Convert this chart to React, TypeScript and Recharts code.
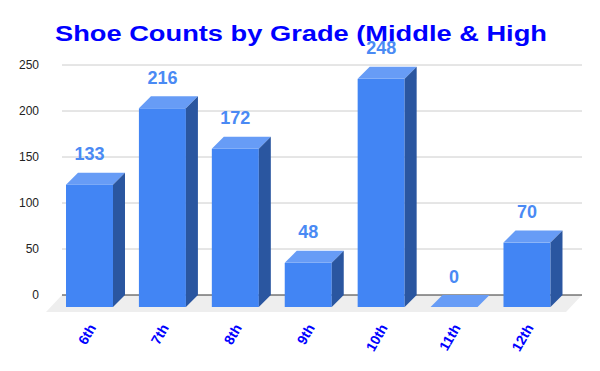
import React from 'react';
import { BarChart, Bar, XAxis, YAxis, CartesianGrid } from 'recharts';

const grades = ['6th', '7th', '8th', '9th', '10th', '11th', '12th'];
const counts = [133, 216, 172, 48, 248, 0, 70];
const yTicks = [0, 50, 100, 150, 200, 250];
const title = 'Shoe Counts by Grade (Middle & High';

const data = grades.map((g, i) => ({ grade: g, count: counts[i] }));

const FONT = '"Liberation Sans", Arial, sans-serif';
const FRONT = '#4285f4';
const TOP = '#679cf6';
const SIDE = '#2a56a0';
const D = 12;

const Bar3D = (props: any) => {
  const { x, y, width, height, payload } = props;
  const w = width;
  const bottom = y + height;
  const v = payload?.count;
  const label = (
    <text
      x={x + w / 2 - D}
      y={y - 12.5}
      textAnchor="middle"
      fontFamily={FONT}
      fontWeight="bold"
      fontSize={18}
      fill="#4a8af4"
    >
      {v}
    </text>
  );
  if (!height || height < 0.5) {
    return (
      <g>
        <polygon
          points={`${x - D},${bottom + D} ${x},${bottom} ${x + w},${bottom} ${x + w - D},${bottom + D}`}
          fill={TOP}
        />
        {label}
      </g>
    );
  }
  return (
    <g>
      <rect x={x - D} y={y + D} width={w} height={height} fill={FRONT} />
      <polygon
        points={`${x - D},${y + D} ${x},${y} ${x + w},${y} ${x + w - D},${y + D}`}
        fill={TOP}
      />
      <polygon
        points={`${x + w - D},${y + D} ${x + w},${y} ${x + w},${bottom} ${x + w - D},${bottom + D}`}
        fill={SIDE}
      />
      {label}
    </g>
  );
};

const XTick = (props: any) => {
  const { x, payload } = props;
  const ax = x - 5;
  const ay = 327.5;
  return (
    <text
      x={ax}
      y={ay}
      transform={`rotate(-60, ${ax}, ${ay})`}
      textAnchor="end"
      fontFamily={FONT}
      fontWeight="bold"
      fontSize={14}
      fill="#0000ff"
    >
      {payload.value}
    </text>
  );
};

const gridLine = (props: any) => {
  const { x1, x2, y1, y2 } = props;
  const isBase = Math.abs(y1 - 295) < 2;
  if (isBase) {
    return (
      <g key={props.key}>
        <polygon
          points={`${x1},${y1} ${x2},${y1} ${x2 - 16},${y1 + 17} ${x1 - 16},${y1 + 17}`}
          fill="#eeeeee"
        />
        <line x1={x1} y1={y1} x2={x2} y2={y2} stroke="#333333" strokeWidth={1} />
      </g>
    );
  }
  return <line key={props.key} x1={x1} y1={y1} x2={x2} y2={y2} stroke="#cccccc" strokeWidth={1} />;
};

export default function App() {
  return (
    <div style={{ position: 'absolute', left: 0, top: 0, width: 600, height: 371, background: '#fff' }}>
      <svg width={600} height={371} style={{ position: 'absolute', left: 0, top: 0 }}>
        <text
          x={55}
          y={41}
          fontFamily={FONT}
          fontWeight="bold"
          fontSize={22}
          fill="#0000ff"
          textLength={492}
          lengthAdjust="spacingAndGlyphs"
        >
          {title}
        </text>
      </svg>
      <div style={{ position: 'absolute', left: 0, top: 0 }}>
        <BarChart width={600} height={371} data={data} margin={{ top: 65, right: 18, bottom: 0, left: 0 }}>
          <CartesianGrid vertical={false} horizontal={gridLine} />
          <XAxis
            dataKey="grade"
            height={76}
            axisLine={false}
            tickLine={false}
            interval={0}
            tick={XTick}
            padding={{ left: 3, right: 6.6 }}
          />
          <YAxis
            domain={[0, 250]}
            ticks={yTicks}
            axisLine={false}
            tickLine={false}
            tickSize={0}
            tickMargin={23}
            width={62}
            tick={{ fontFamily: FONT, fontSize: 12, fill: '#222222' }}
          />
          <Bar dataKey="count" barSize={47} shape={Bar3D} isAnimationActive={false} />
        </BarChart>
      </div>
    </div>
  );
}
